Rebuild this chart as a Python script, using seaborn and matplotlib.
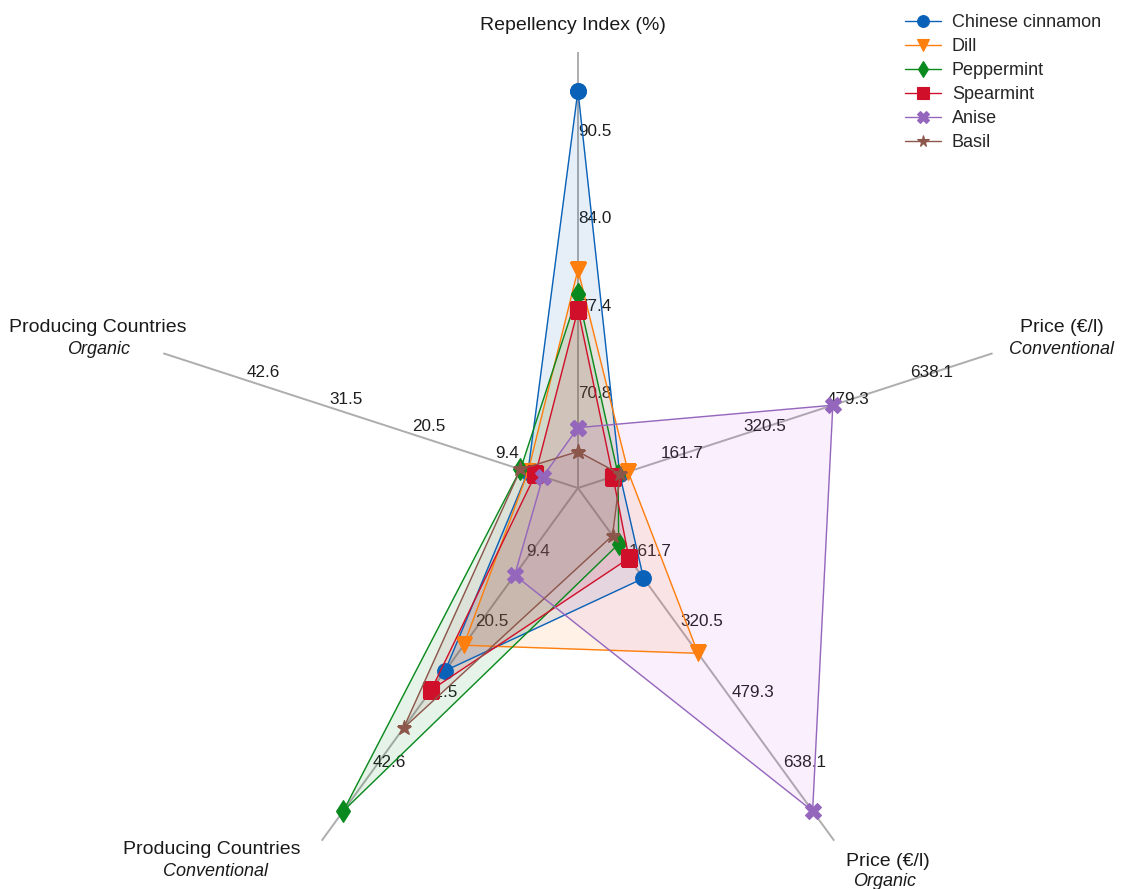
import numpy as np
import pandas as pd
import matplotlib
matplotlib.use("Agg")
import matplotlib.pyplot as plt
import seaborn as sns

# ---------------- data ----------------
axis_titles = ["Repellency Index (%)", "Price (€/l)", "Price (€/l)",
               "Producing Countries", "Producing Countries"]
axis_subtitles = ["", "Conventional", "Organic", "Conventional", "Organic"]

oils = ["Chinese cinnamon", "Dill", "Peppermint", "Spearmint", "Anise", "Basil"]
repellency = [94.2, 80.7, 78.9, 77.7, 68.8, 67.0]
price_conventional = [83, 99, 80, 70, 491, 84]
price_organic = [206, 375, 129, 161, 730, 110]
countries_conventional = [27, 23, 49, 30, 12, 36]
countries_organic = [5, 5, 6, 4, 3, 6]

# scale (min at centre, max at rim) for each axis
axis_ranges = [(64.25, 97.1), (2.9, 796.9), (2.9, 796.9),
               (-1.67, 53.68), (-1.67, 53.68)]

colors = ["#0a62b8", "#ff7f0e", "#0a8a1e", "#d0102a", "#9467bd", "#8c564b"]
fill_colors = ["#0a62b8", "#ff7f0e", "#0a8a1e", "#d0102a", "#c858de", "#8c564b"]
fill_alphas = [0.1, 0.1, 0.1, 0.1, 0.09, 0.1]
markers = ["o", "v", "d", "s", "X", "*"]

# ---------------- style ----------------
sns.set_theme(style="white")
plt.rcParams["font.family"] = ["Liberation Sans", "DejaVu Sans"]

W, H = 1132, 889
fig = plt.figure(figsize=(W / 100, H / 100), dpi=100)
ax = fig.add_axes([0.1254, -0.0394, 0.7703, 0.9809], polar=True)
ax.set_theta_offset(np.pi / 2)
ax.set_theta_direction(-1)

n_axes = len(axis_titles)
angles = np.arange(n_axes) * 2 * np.pi / n_axes
ax.set_ylim(0, 1)
ax.set_thetagrids(np.degrees(angles), labels=[""] * n_axes)
ax.set_yticks([])
ax.grid(True, axis="x", color="#adadad", linewidth=1.4)
ax.spines["polar"].set_visible(False)
ax.set_facecolor("white")

series = np.array([repellency, price_conventional, price_organic,
                   countries_conventional, countries_organic], dtype=float).T

for name, vals, col, fcol, mk, fa in zip(oils, series, colors, fill_colors,
                                         markers, fill_alphas):
    r = np.array([(v - lo) / (hi - lo) for v, (lo, hi) in zip(vals, axis_ranges)])
    theta = np.append(angles, angles[0])
    rr = np.append(r, r[0])
    df = pd.DataFrame({"theta": theta, "r": rr})
    ax.fill(theta, rr, color=fcol, alpha=fa, zorder=2)
    sns.lineplot(data=df, x="theta", y="r", sort=False, estimator=None, ax=ax,
                 color=col, marker=mk, markersize=11.3, markeredgecolor=col,
                 markeredgewidth=0.8, linewidth=1.0, label=name, zorder=3)

ax.set_xlabel("")
ax.set_ylabel("")

# tick labels on each spoke
for ang, (lo, hi) in zip(angles, axis_ranges):
    for k in range(1, 5):
        frac = k / 5
        ax.text(ang, frac, f"{lo + frac * (hi - lo):.1f}", ha="left", va="bottom",
                fontsize=12.3, color="#1e1e1e", zorder=1.5)

# axis titles
title_pos = [(573, 25), (1062, 328), (888, 862), (212, 850), (98, 328)]
sub_pos = [None, (1062, 349), (885, 882), (216, 871), (99, 350)]
for t, s, tp, sp in zip(axis_titles, axis_subtitles, title_pos, sub_pos):
    fig.text(tp[0] / W, 1 - tp[1] / H, t, ha="center", va="center",
             fontsize=14, color="#1a1a1a")
    if s:
        fig.text(sp[0] / W, 1 - sp[1] / H, s, ha="center", va="center",
                 fontsize=13, style="italic", color="#1a1a1a")

leg = ax.legend(loc="upper left", bbox_to_anchor=(905 / W, 1 - 14 / H),
                bbox_transform=fig.transFigure, frameon=False, fontsize=13,
                markerscale=0.75, borderpad=0, borderaxespad=0,
                handlelength=2.0, handletextpad=0.6, labelspacing=0.39)

fig.savefig("out.png", dpi=100)
